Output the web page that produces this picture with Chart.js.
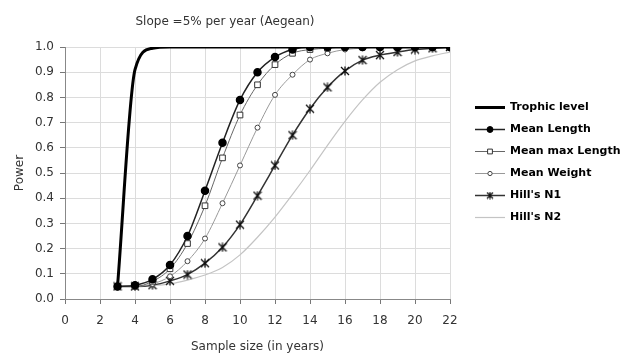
<!DOCTYPE html>
<html>
<head>
<meta charset="utf-8">
<script src="https://cdn.jsdelivr.net/npm/chart.js@4.4.0/dist/chart.umd.min.js"></script>
<style>
html, body { margin: 0; padding: 0; background: #fff; }
#wrap { width: 630px; height: 354px; }
</style>
</head>
<body>
<div id="wrap"><canvas id="myChart" width="630" height="354"></canvas></div>
<script>
// sample sizes (years)
var years = [3, 4, 5, 6, 7, 8, 9, 10, 11, 12, 13, 14, 15, 16, 17, 18, 19, 20, 21, 22];

// power for each index
var trophicLevel  = [0.05, 0.91, 0.995, 1.0, 1.0, 1.0, 1.0, 1.0, 1.0, 1.0, 1.0, 1.0, 1.0, 1.0, 1.0, 1.0, 1.0, 1.0, 1.0, 1.0];
var meanLength    = [0.05, 0.055, 0.078, 0.135, 0.25, 0.43, 0.62, 0.79, 0.90, 0.96, 0.99, 1.0, 1.0, 1.0, 1.0, 1.0, 1.0, 1.0, 1.0, 1.0];
var meanMaxLength = [0.05, 0.05, 0.07, 0.12, 0.22, 0.37, 0.56, 0.73, 0.85, 0.93, 0.975, 0.99, 0.995, 1.0, 1.0, 1.0, 1.0, 1.0, 1.0, 1.0];
var meanWeight    = [0.05, 0.05, 0.06, 0.09, 0.15, 0.24, 0.38, 0.53, 0.68, 0.81, 0.89, 0.95, 0.975, 0.99, 0.995, 1.0, 1.0, 1.0, 1.0, 1.0];
var hillsN1       = [0.05, 0.05, 0.055, 0.072, 0.097, 0.142, 0.205, 0.295, 0.41, 0.53, 0.65, 0.755, 0.84, 0.905, 0.948, 0.968, 0.98, 0.99, 0.995, 1.0];
var hillsN2       = [0.05, 0.05, 0.053, 0.06, 0.075, 0.095, 0.125, 0.175, 0.245, 0.325, 0.415, 0.51, 0.61, 0.705, 0.79, 0.86, 0.91, 0.945, 0.965, 0.98];

var xTicks = [0, 2, 4, 6, 8, 10, 12, 14, 16, 18, 20, 22];

function pts(arr) {
	return years.map(function(y, i) { return { x: y, y: arr[i] }; });
}

var font = "'DejaVu Sans', Verdana, sans-serif";

// excel style star marker: an X with a vertical stroke
function starMarker(size) {
	var cv = document.createElement('canvas');
	cv.width = size; cv.height = size;
	var g = cv.getContext('2d');
	var m = size / 2, r = size / 2 - 1;
	g.strokeStyle = '#111';
	g.lineWidth = 1.3;
	g.beginPath();
	g.moveTo(m - r, m - r); g.lineTo(m + r, m + r);
	g.moveTo(m + r, m - r); g.lineTo(m - r, m + r);
	g.moveTo(m, m - r - 0.5); g.lineTo(m, m + r + 0.5);
	g.stroke();
	return cv;
}
var starBig = starMarker(10);
var starSmall = starMarker(8);

var datasets = [
	{ label: 'Trophic level', data: pts(trophicLevel), borderColor: '#000', borderWidth: 3, pointRadius: 0, pointStyle: false },
	{ label: 'Mean Length', data: pts(meanLength), borderColor: '#222', borderWidth: 1.5, pointStyle: 'circle', pointRadius: 3.5, backgroundColor: '#000', pointBorderColor: '#000' },
	{ label: 'Mean max Length', data: pts(meanMaxLength), borderColor: '#666', borderWidth: 1, pointStyle: 'rect', pointRadius: 4, backgroundColor: '#fff', pointBorderColor: '#333', pointBorderWidth: 1 },
	{ label: 'Mean Weight', data: pts(meanWeight), borderColor: '#999', borderWidth: 1, pointStyle: 'circle', pointRadius: 2.5, backgroundColor: '#fff', pointBorderColor: '#444', pointBorderWidth: 1 },
	{ label: "Hill's N1", data: pts(hillsN1), borderColor: '#333', borderWidth: 1.5, pointStyle: starBig, legendStyle: starSmall, pointRadius: 4, backgroundColor: '#000', pointBorderColor: '#111', pointBorderWidth: 1.2 },
	{ label: "Hill's N2", data: pts(hillsN2), borderColor: '#c4c4c4', borderWidth: 1.2, pointRadius: 0, pointStyle: false }
];

// legend drawn on the right, line + marker like the original
var sideLegend = {
	id: 'sideLegend',
	afterDraw: function(chart) {
		var c = chart.ctx;
		var x0 = 475, y0 = 107.5, step = 22;
		chart.data.datasets.forEach(function(ds, i) {
			var y = y0 + i * step;
			c.save();
			c.strokeStyle = ds.borderColor;
			c.lineWidth = ds.borderWidth;
			c.beginPath();
			c.moveTo(x0, y);
			c.lineTo(x0 + 30, y);
			c.stroke();
			if (ds.legendStyle) {
				c.drawImage(ds.legendStyle, x0 + 15 - 4, y - 4);
			} else if (ds.pointStyle) {
				c.fillStyle = ds.backgroundColor;
				c.strokeStyle = ds.pointBorderColor;
				c.lineWidth = ds.pointBorderWidth || 1;
				Chart.helpers.drawPoint(c, { pointStyle: ds.pointStyle, radius: ds.pointRadius * 0.85, borderWidth: ds.pointBorderWidth || 1 }, x0 + 15, y);
			}
			c.fillStyle = '#000';
			c.font = 'bold 11px ' + font;
			c.textBaseline = 'middle';
			c.fillText(ds.label, x0 + 35, y);
			c.restore();
		});
	}
};

var ctx = document.getElementById('myChart').getContext('2d');
var myChart = new Chart(ctx, {
	type: 'line',
	data: { datasets: datasets },
	options: {
		responsive: false,
		animation: false,
		cubicInterpolationMode: 'monotone',
		layout: { padding: { left: 0, right: 180, top: 0, bottom: 0 } },
		plugins: {
			legend: { display: false },
			tooltip: { enabled: false },
			title: {
				display: true,
				text: 'Slope =5% per year (Aegean)',
				color: '#333',
				font: { family: font, size: 12, weight: 'normal' },
				padding: { top: 15, bottom: 17.6 }
			}
		},
		elements: { line: { tension: 0.4 } },
		scales: {
			x: {
				type: 'linear',
				min: 0,
				max: 22,
				afterBuildTicks: function(axis) {
					axis.ticks = xTicks.map(function(v) { return { value: v }; });
				},
				afterFit: function(axis) { axis.height = 55; },
				grid: { color: '#dcdcdc', tickColor: '#777', tickLength: 5 },
				border: { color: '#888' },
				ticks: { color: '#333', font: { family: font, size: 12 }, maxRotation: 0, padding: 10 },
				title: { display: true, text: 'Sample size (in years)', color: '#333', font: { family: font, size: 12 }, padding: { top: 0, bottom: 0 } }
			},
			y: {
				min: 0,
				max: 1,
				afterFit: function(axis) { axis.width = 65; },
				ticks: {
					stepSize: 0.1,
					color: '#333',
					padding: 6,
					font: { family: font, size: 12 },
					callback: function(v) { return v.toFixed(1); }
				},
				grid: { color: '#dcdcdc', tickColor: '#777', tickLength: 5 },
				border: { color: '#888' },
				title: { display: true, text: 'Power', color: '#333', font: { family: font, size: 12 }, padding: { top: 13, bottom: 0 } }
			}
		}
	},
	plugins: [sideLegend]
});
</script>
</body>
</html>
